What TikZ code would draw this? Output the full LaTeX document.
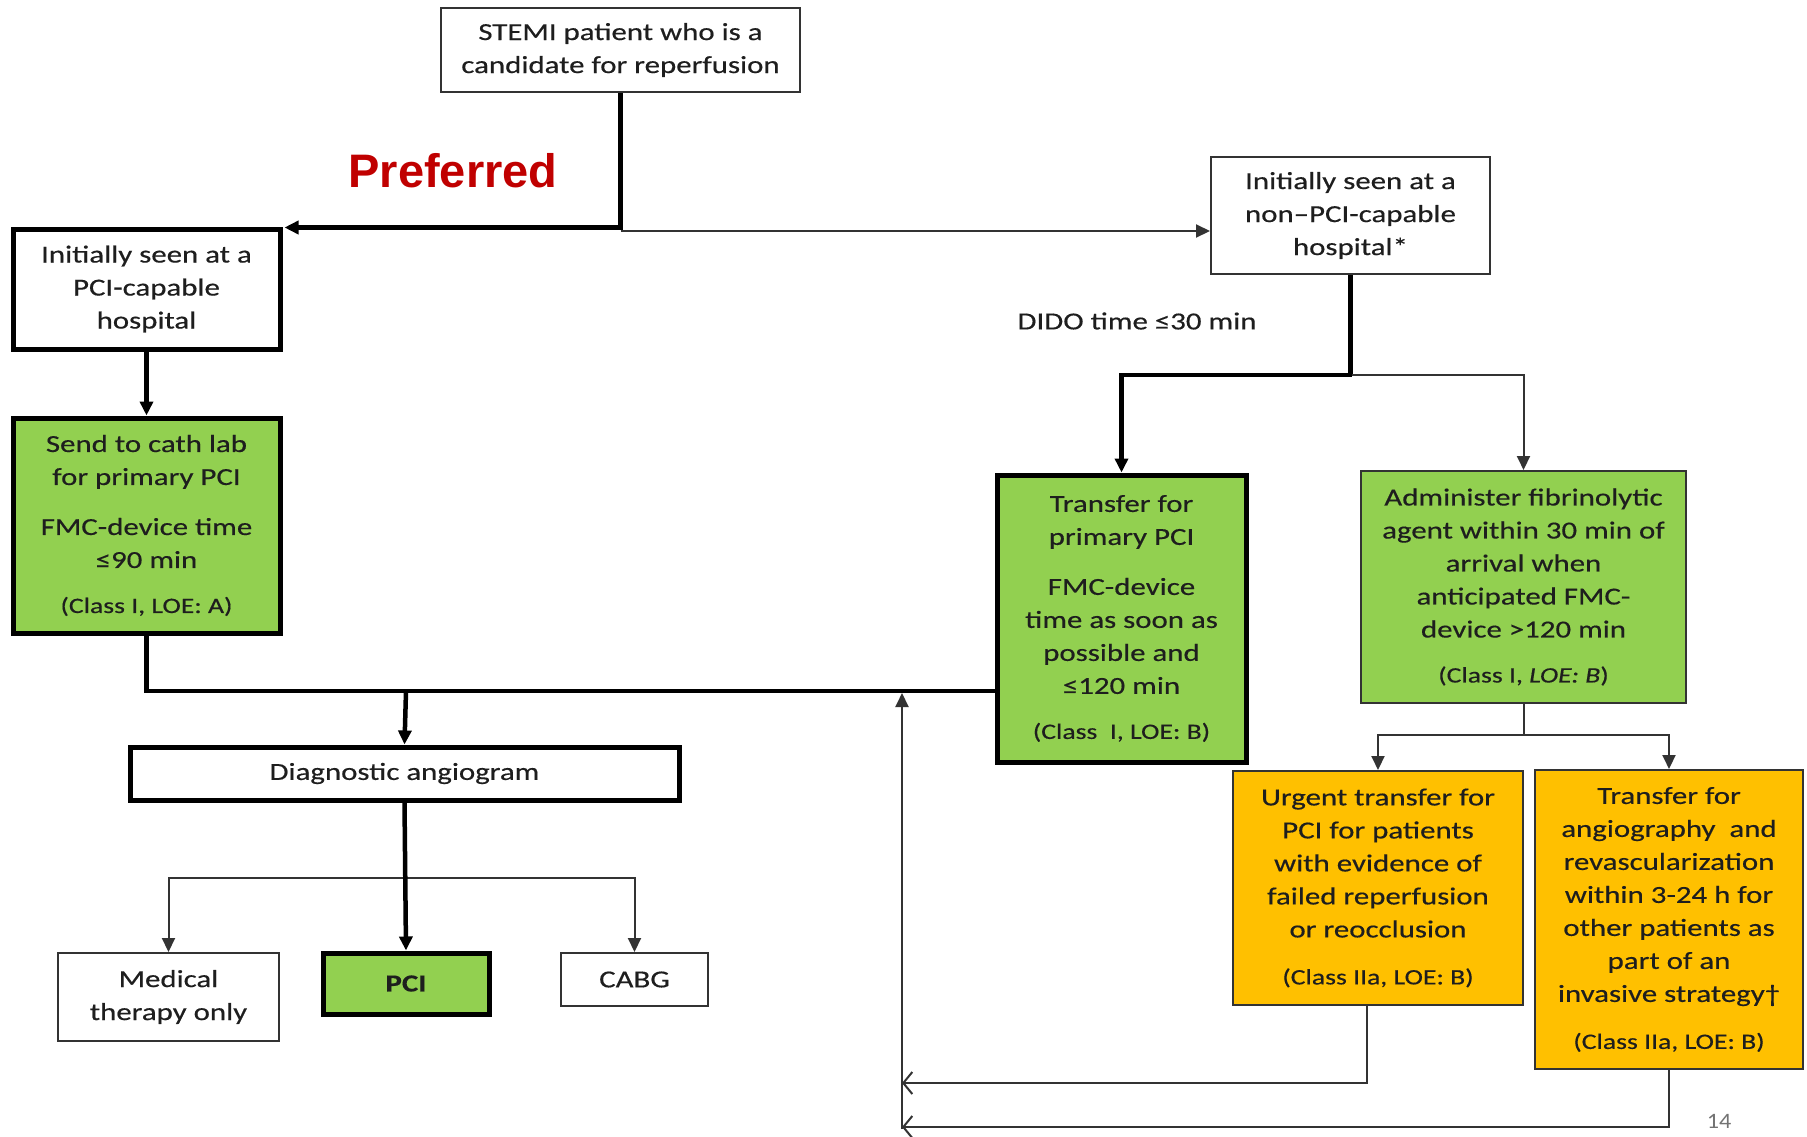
\documentclass[tikz,border=0pt]{standalone}
\usepackage{fontspec}
\setmainfont{Carlito}[FakeStretch=1.26,FakeBold=0.4]
\newfontfamily\arialf{Liberation Sans}
\newfontfamily\lightf{Carlito}[FakeStretch=1.1]
\usetikzlibrary{arrows.meta,calc}
\definecolor{gfill}{HTML}{92D050}
\definecolor{ofill}{HTML}{FFC000}
\definecolor{pref}{HTML}{C00000}
\definecolor{txt}{HTML}{1E1E1E}
\newcommand\clsline[1]{{\fontsize{22}{28}\selectfont #1}}
\begin{document}
\begin{tikzpicture}[x=1pt,y=-1pt,
  base/.style={draw=black, align=center, inner sep=0pt, text=txt, font=\fontsize{24.5}{33}\selectfont, anchor=center},
  thinbox/.style={base, line width=2pt, draw=black!80, fill=white},
  thickbox/.style={base, line width=5pt, fill=white},
  greenthick/.style={thickbox, fill=gfill},
  greenthin/.style={thinbox, fill=gfill},
  orangebox/.style={thinbox, fill=ofill},
  thickline/.style={line width=4.5pt, draw=black},
  thinline/.style={line width=2pt, draw=black!80},
  tip/.style={-{Triangle[length=14pt,width=13pt]}},
  opentip/.style={-{Straight Barb[length=9pt,width=22pt,line width=2pt]}},
  plain/.style={text=txt, font=\fontsize{24.5}{33}\selectfont, inner sep=0pt}
]
\useasboundingbox (0,0) rectangle (1807,1136);

% nodes
\node[thinbox, minimum width=359pt, minimum height=84pt] (stemi) at (620.5,50) {STEMI patient who is a\\candidate for reperfusion};
\node[font=\arialf\bfseries\fontsize{47}{50}\selectfont, text=pref, inner sep=0pt] (pref) at (453,171) {Preferred};
\node[thickbox, minimum width=267pt, minimum height=120pt] (pcicap) at (146.5,289) {Initially seen at a\\PCI-capable\\hospital};
\node[greenthick, minimum width=267pt, minimum height=215pt] (cath) at (146.5,525.5) {Send to cath lab\\for primary PCI\\[17pt]FMC-device time\\≤90 min\\[12pt]\clsline{(Class I, LOE: A)}};
\node[thickbox, minimum width=549pt, minimum height=53pt] (diag) at (404.5,773.5) {Diagnostic angiogram};
\node[thinbox, minimum width=221pt, minimum height=88pt] (med) at (168.5,997) {Medical\\therapy only};
\node[greenthick, minimum width=166pt, minimum height=61pt, font=\bfseries\fontsize{24.5}{33}\selectfont] (pci) at (406,983.5) {PCI};
\node[thinbox, minimum width=147pt, minimum height=53pt] (cabg) at (634.5,979.5) {CABG};
\node[thinbox, minimum width=279pt, minimum height=117pt] (nonpci) at (1350.5,215.5) {Initially seen at a\\non--PCI-capable\\hospital*};
\node[plain] (dido) at (1137,321) {DIDO time ≤30 min};
\node[greenthick, minimum width=249pt, minimum height=287pt] (transfer) at (1121.5,618.5) {Transfer for\\primary PCI\\[17pt]FMC-device\\time as soon as\\possible and\\≤120 min\\[12pt]\clsline{(Class \ I, LOE: B)}};
\node[greenthin, minimum width=325pt, minimum height=232pt] (fib) at (1523.5,587) {Administer fibrinolytic\\agent within 30 min of\\arrival when\\anticipated FMC-\\device >120 min\\[12pt]\clsline{(Class I, \textit{LOE: B})}};
\node[orangebox, minimum width=290pt, minimum height=234pt] (urgent) at (1378,888) {Urgent transfer for\\PCI for patients\\with evidence of\\failed reperfusion\\or reocclusion\\[14pt]\clsline{(Class IIa, LOE: B)}};
\node[orangebox, minimum width=268pt, minimum height=299pt] (angio) at (1669,919.5) {Transfer for\\angiography \ and\\revascularization\\within 3-24 h for\\other patients as\\part of an\\invasive strategy†\\[14pt]\clsline{(Class IIa, LOE: B)}};
\node[text=black!55, font=\lightf\fontsize{22}{24}\selectfont, inner sep=0pt] (pg) at (1719,1121) {14};

% junction coordinates
\coordinate (j1) at (620.5,231);
\coordinate (m) at (406,691);
\coordinate (b1) at (406,878);
\coordinate (j2) at (1352,375);
\coordinate (j3) at (1523.5,735);
\coordinate (r1) at (902,1083);
\coordinate (r2) at (902,1127);
\coordinate (rb) at (902,1129);
\coordinate (rt) at (902,693);

% connectors
\draw[thinline, tip] (j1) -- (nonpci.west |- j1);
\draw[thickline, tip] (stemi.south) |- ($(pcicap.north east)+(2,1)$);
\draw[thickline, tip] (pcicap.south) -- (cath.north);
\draw[thickline] (cath.south) |- (m) -- (transfer.west |- m);
\draw[thickline, tip] (m) -- (diag.north);
\draw[thinline, tip] (b1) -| (med.north);
\draw[thinline, tip] (b1) -| (cabg.north);
\draw[thickline, tip] (diag.south) -- (pci.north);
\draw[thickline] (nonpci.south) |- (j2);
\draw[thickline, tip] (j2) -| (transfer.north);
\draw[thinline, tip] (j2) -| (fib.north);
\draw[thinline] (fib.south) -- (j3);
\draw[thinline, tip] (j3) -| (urgent.north);
\draw[thinline, tip] (j3) -| (angio.north);
\draw[thinline, opentip] ($(urgent.south)+(-11,0)$) |- (r1);
\draw[thinline, opentip] (angio.south) |- (r2);
\draw[thinline, tip] (rb) -- (rt);
\end{tikzpicture}
\end{document}
